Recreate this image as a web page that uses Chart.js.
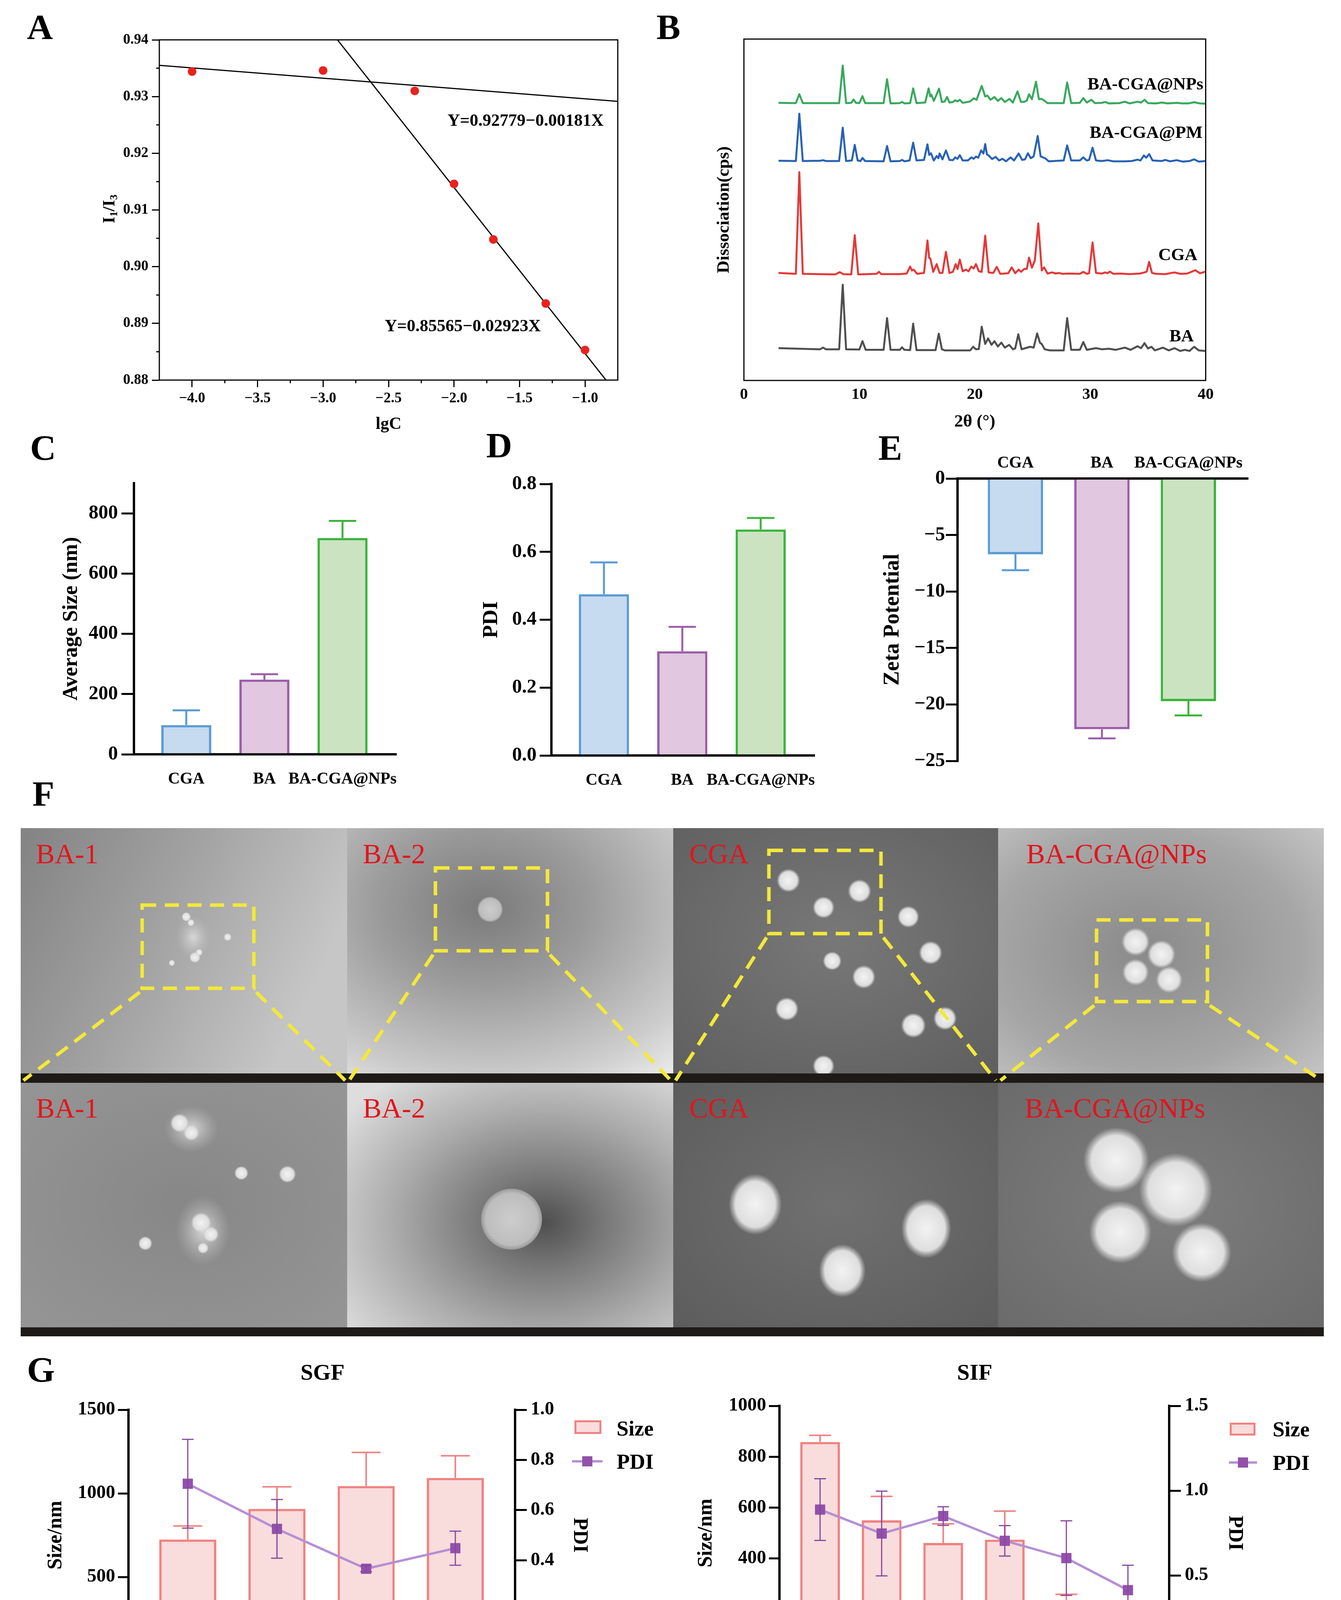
<!DOCTYPE html>
<html>
<head>
<meta charset="utf-8">
<script src="https://cdn.jsdelivr.net/npm/chart.js@4.4.1/dist/chart.umd.min.js"></script>
<style>
  html, body { margin: 0; padding: 0; background: #fff; }
  body { width: 3434px; height: 4461px; position: relative; overflow: hidden;
         font-family: 'Liberation Serif', 'Times New Roman', serif; }
  canvas { position: absolute; }
  .lbl { position: absolute; font-weight: bold; line-height: 1; white-space: nowrap; color: #000; }
  .letter { font-size: 92px; }
  .c { transform: translate(-50%, -50%); }
  .lc { transform: translateY(-50%); }
  sub { font-size: 0.62em; line-height: 0; vertical-align: -0.25em; }
</style>
</head>
<body>

<!-- panel letters -->
<div class="lbl letter" style="left:69px;top:23px">A</div>
<div class="lbl letter" style="left:1681px;top:23px">B</div>
<div class="lbl letter" style="left:77px;top:1100px">C</div>
<div class="lbl letter" style="left:1245px;top:1094px">D</div>
<div class="lbl letter" style="left:2249px;top:1100px">E</div>
<div class="lbl letter" style="left:83px;top:1986px">F</div>
<div class="lbl letter" style="left:69px;top:3460px">G</div>

<canvas id="chartA" width="1400" height="1053" style="left:200px;top:67px"></canvas>
<div class="lbl c" style="left:279px;top:535px;font-size:44px;transform:translate(-50%,-50%) rotate(-90deg)">I<sub>1</sub>/I<sub>3</sub></div>
<div class="lbl lc" style="left:1146px;top:308px;font-size:44px">Y=0.92779−0.00181X</div>
<div class="lbl lc" style="left:985px;top:834px;font-size:44px">Y=0.85565−0.02923X</div>

<canvas id="chartB" width="1320" height="1070" style="left:1800px;top:60px"></canvas>

<canvas id="chartC" width="930" height="848" style="left:130px;top:1192px"></canvas>
<canvas id="chartD" width="930" height="846" style="left:1200px;top:1194px"></canvas>
<canvas id="chartE" width="980" height="860" style="left:2240px;top:1130px"></canvas>

<!-- F : TEM micrographs (illustration) -->
<svg width="3434" height="1340" style="position:absolute;left:0;top:2100px" xmlns="http://www.w3.org/2000/svg">
  <defs>
    <linearGradient id="t1" x1="0" y1="0" x2="1" y2="0.35"><stop offset="0" stop-color="#838383"/><stop offset="0.5" stop-color="#a2a2a2"/><stop offset="1" stop-color="#c6c6c6"/></linearGradient>
    <radialGradient id="t2" cx="0.42" cy="0.32" r="0.95"><stop offset="0" stop-color="#7a7a7a"/><stop offset="0.35" stop-color="#9c9c9c"/><stop offset="0.75" stop-color="#cdcdcd"/><stop offset="1" stop-color="#f4f4f4"/></radialGradient>
    <radialGradient id="t3" cx="0.5" cy="0.45" r="0.8"><stop offset="0" stop-color="#787878"/><stop offset="1" stop-color="#5d5d5d"/></radialGradient>
    <radialGradient id="t4" cx="0.45" cy="0.5" r="0.8"><stop offset="0" stop-color="#8a8a8a"/><stop offset="0.6" stop-color="#a6a6a6"/><stop offset="1" stop-color="#cbcbcb"/></radialGradient>
    <radialGradient id="b1" cx="0.5" cy="0.5" r="0.8"><stop offset="0" stop-color="#878787"/><stop offset="1" stop-color="#979797"/></radialGradient>
    <radialGradient id="b2" cx="0.6" cy="0.57" r="0.75"><stop offset="0" stop-color="#4e4e4e"/><stop offset="0.25" stop-color="#787878"/><stop offset="0.6" stop-color="#aaaaaa"/><stop offset="1" stop-color="#dddddd"/></radialGradient>
    <radialGradient id="b3" cx="0.5" cy="0.5" r="0.8"><stop offset="0" stop-color="#707070"/><stop offset="1" stop-color="#5a5a5a"/></radialGradient>
    <radialGradient id="b4" cx="0.5" cy="0.5" r="0.8"><stop offset="0" stop-color="#7e7e7e"/><stop offset="1" stop-color="#686868"/></radialGradient>
    <radialGradient id="blob"><stop offset="0" stop-color="#f3f3f3"/><stop offset="0.75" stop-color="#dedede"/><stop offset="1" stop-color="#cfcfcf" stop-opacity="0"/></radialGradient>
    <radialGradient id="haze"><stop offset="0" stop-color="#d8d8d8"/><stop offset="1" stop-color="#bcbcbc" stop-opacity="0"/></radialGradient>
    <radialGradient id="sph"><stop offset="0" stop-color="#cdcdcd"/><stop offset="0.85" stop-color="#bdbdbd"/><stop offset="1" stop-color="#9a9a9a"/></radialGradient>
  </defs>
  <rect x="53" y="20" width="836" height="628" fill="url(#t1)"/>
  <rect x="889" y="20" width="835" height="628" fill="url(#t2)"/>
  <rect x="1724" y="20" width="832" height="628" fill="url(#t3)"/>
  <rect x="2556" y="20" width="834" height="628" fill="url(#t4)"/>
  <rect x="53" y="672" width="836" height="626" fill="url(#b1)"/>
  <rect x="889" y="672" width="835" height="626" fill="url(#b2)"/>
  <rect x="1724" y="672" width="832" height="626" fill="url(#b3)"/>
  <rect x="2556" y="672" width="834" height="626" fill="url(#b4)"/>
  <g fill="url(#haze)">
    <ellipse cx="490" cy="790" rx="70" ry="60"/><ellipse cx="520" cy="1050" rx="70" ry="90"/>
    <ellipse cx="495" cy="300" rx="45" ry="55"/>
  </g>
  <g fill="url(#blob)">
    <circle cx="477" cy="247" r="12"/><circle cx="489" cy="262" r="9"/><circle cx="499" cy="351" r="14"/><circle cx="510" cy="338" r="9"/><circle cx="583" cy="299" r="10"/><circle cx="440" cy="365" r="8"/>
    <circle cx="2019" cy="154" r="30"/><circle cx="2201" cy="181" r="30"/><circle cx="2109" cy="223" r="28"/><circle cx="2326" cy="247" r="28"/>
    <circle cx="2383" cy="339" r="30"/><circle cx="2131" cy="360" r="24"/><circle cx="2212" cy="401" r="30"/><circle cx="2015" cy="483" r="30"/>
    <circle cx="2339" cy="525" r="32"/><circle cx="2420" cy="507" r="30"/><circle cx="2109" cy="629" r="28"/>
    <circle cx="2908" cy="311" r="36"/><circle cx="2974" cy="343" r="36"/><circle cx="2908" cy="389" r="34"/><circle cx="2994" cy="408" r="34"/>
    <circle cx="460" cy="775" r="24"/><circle cx="490" cy="800" r="20"/><circle cx="515" cy="1030" r="26"/><circle cx="540" cy="1060" r="20"/><circle cx="520" cy="1095" r="14"/>
    <circle cx="372" cy="1083" r="18"/><circle cx="618" cy="903" r="18"/><circle cx="736" cy="906" r="22"/>
    <ellipse cx="1934" cy="983" rx="68" ry="78"/><ellipse cx="2372" cy="1045" rx="64" ry="76"/><ellipse cx="2157" cy="1153" rx="60" ry="68"/>
    <circle cx="2858" cy="870" r="84"/><circle cx="3011" cy="946" r="94"/><circle cx="2869" cy="1054" r="80"/><circle cx="3077" cy="1106" r="76"/>
  </g>
  <circle cx="1255" cy="228" r="32" fill="url(#sph)"/>
  <circle cx="1310" cy="1021" r="78" fill="url(#sph)"/>
  <rect x="53" y="648" width="3337" height="24" fill="#1d1a18"/>
  <rect x="53" y="1298" width="3337" height="23" fill="#1d1a18"/>
  <g stroke="#f3e83a" stroke-width="9" stroke-dasharray="36 22" fill="none">
    <rect x="364" y="217" width="286" height="213"/>
    <line x1="358" y1="440" x2="60" y2="666"/><line x1="656" y1="440" x2="884" y2="666"/>
    <rect x="1115" y="122" width="287" height="212"/>
    <line x1="1109" y1="344" x2="894" y2="666"/><line x1="1408" y1="344" x2="1718" y2="666"/>
    <rect x="1969" y="77" width="287" height="213"/>
    <line x1="1963" y1="300" x2="1730" y2="666"/><line x1="2262" y1="300" x2="2550" y2="666"/>
    <rect x="2808" y="255" width="284" height="209"/>
    <line x1="2802" y1="474" x2="2562" y2="666"/><line x1="3098" y1="474" x2="3384" y2="666"/>
  </g>
  <g font-family="'Liberation Serif','Times New Roman',serif" font-size="72" fill="#e3141c">
    <text x="92" y="110">BA-1</text><text x="929" y="110">BA-2</text><text x="1765" y="110">CGA</text><text x="2628" y="110">BA-CGA@NPs</text>
    <text x="92" y="761">BA-1</text><text x="929" y="761">BA-2</text><text x="1765" y="761">CGA</text><text x="2624" y="761">BA-CGA@NPs</text>
  </g>
</svg>

<div class="lbl c" style="left:826px;top:3513px;font-size:58px">SGF</div>
<div class="lbl c" style="left:2496px;top:3513px;font-size:58px">SIF</div>
<canvas id="chartGL" width="1460" height="880" style="left:100px;top:3560px"></canvas>
<canvas id="chartGR" width="1470" height="900" style="left:1760px;top:3550px"></canvas>

<!-- G legends -->
<div style="position:absolute;left:1471px;top:3636px;width:69px;height:35px;box-sizing:border-box;border:5px solid #f08282;background:#f9dcdc"></div>
<div style="position:absolute;left:1465px;top:3738px;width:78px;height:6px;background:#b58fd4"></div>
<div style="position:absolute;left:1491px;top:3728px;width:26px;height:26px;background:#9251aa"></div>
<div class="lbl lc" style="left:1579px;top:3656px;font-size:55px">Size</div>
<div class="lbl lc" style="left:1579px;top:3741px;font-size:55px">PDI</div>
<div style="position:absolute;left:3149px;top:3642px;width:66px;height:33px;box-sizing:border-box;border:5px solid #f08282;background:#f9dcdc"></div>
<div style="position:absolute;left:3147px;top:3741px;width:72px;height:6px;background:#b58fd4"></div>
<div style="position:absolute;left:3170px;top:3731px;width:26px;height:26px;background:#9251aa"></div>
<div class="lbl lc" style="left:3259px;top:3658px;font-size:55px">Size</div>
<div class="lbl lc" style="left:3259px;top:3744px;font-size:55px">PDI</div>

<script>
// ---------- data ----------
// A: pyrene fluorescence ratio
const lgC = [-4, -3, -2.3, -2, -1.7, -1.3, -1];
const ratioI1I3 = [0.9344, 0.9346, 0.9310, 0.9146, 0.9048, 0.8935, 0.8853];
const fitLowX = [-4.25, -0.75];
const fitLowY = [0.9355, 0.92915];
const fitHighX = [-2.89, -0.84];
const fitHighY = [0.94, 0.88];
const lgCTicks = [-4, -3.5, -3, -2.5, -2, -1.5, -1];
const lgCMinor = [-3.75, -3.25, -2.75, -2.25, -1.75, -1.25];
const ratioTicks = [0.88, 0.89, 0.90, 0.91, 0.92, 0.93, 0.94];
const ratioMinor = [0.885, 0.895, 0.905, 0.915, 0.925, 0.935];

// B: XRD patterns [2theta, intensity (a.u., stacked)]
const xrdNPs = [[3.0,997],[4.5,996],[4.8,1028],[5.1,996],[8.25,996],[8.56,1131],[8.85,996],[9.3,997],[9.5,1009],[9.7,997],[10.0,996],[10.27,1021],[10.5,996],[12.1,996],[12.4,1082],[12.7,995],[13.5,996],[13.7,1000],[13.9,995],[14.4,996],[14.66,1049],[14.95,996],[15.7,998],[16.0,1049],[16.15,1020],[16.25,1026],[16.45,1004],[16.7,1028],[16.9,1048],[17.15,1000],[17.4,1002],[17.6,1018],[17.8,998],[18.1,1000],[18.3,1006],[18.5,1002],[18.7,1008],[18.95,997],[19.6,1002],[19.9,1013],[20.15,1008],[20.6,1058],[20.9,1020],[21.1,1023],[21.35,1008],[21.7,1018],[22.0,1004],[22.3,1014],[22.6,1000],[23.0,1011],[23.3,998],[23.7,1038],[24.0,1000],[24.3,1001],[24.5,1005],[24.7,1028],[24.95,1010],[25.3,1073],[25.55,1010],[25.8,1011],[26.05,1004],[26.3,996],[27.7,996],[28.0,1070],[28.35,996],[29.1,997],[29.4,1014],[29.7,998],[30.1,1008],[30.4,996],[31.0,997],[31.3,1000],[31.6,995],[32.5,996],[33.0,1001],[33.4,995],[34.1,1001],[34.4,998],[34.7,1008],[35.0,996],[35.7,995],[36.2,998],[36.7,995],[37.5,997],[38.0,995],[38.5,995],[39.0,999],[39.5,995],[40.0,994]];
const xrdPM = [[3.0,789],[4.5,788],[4.8,958],[5.1,788],[6.6,789],[6.85,791],[7.1,788],[8.25,788],[8.56,908],[8.85,788],[9.35,790],[9.6,846],[9.85,790],[10.1,788],[10.27,799],[10.5,788],[12.1,787],[12.4,842],[12.7,787],[13.5,788],[13.7,792],[13.9,787],[14.35,790],[14.66,854],[14.95,790],[15.6,792],[15.9,848],[16.05,810],[16.2,816],[16.45,790],[16.7,806],[16.85,798],[16.95,815],[17.2,794],[17.5,826],[17.8,792],[18.1,791],[18.3,801],[18.5,796],[18.7,809],[18.95,790],[19.4,790],[19.7,801],[19.9,796],[20.1,804],[20.3,800],[20.55,826],[20.75,815],[20.9,849],[21.05,812],[21.2,808],[21.5,795],[21.8,803],[22.1,790],[22.4,796],[22.7,787],[23.1,801],[23.4,790],[23.8,815],[24.1,792],[24.35,794],[24.6,816],[24.85,798],[25.1,805],[25.45,878],[25.7,805],[25.9,801],[26.1,798],[26.4,787],[27.7,790],[28.0,844],[28.35,790],[29.1,790],[29.4,801],[29.7,790],[29.9,792],[30.2,836],[30.5,790],[31.0,788],[31.5,791],[32.0,787],[33.0,787],[33.6,788],[34.1,793],[34.35,790],[34.65,808],[34.85,800],[35.1,813],[35.4,790],[36.2,788],[36.5,792],[36.9,787],[37.5,791],[38.0,786],[38.6,788],[39.0,794],[39.4,786],[40.0,788]];
const xrdCGA = [[3.0,386],[4.5,383],[4.8,748],[5.1,383],[7.9,381],[8.3,389],[8.6,382],[9.3,381],[9.6,522],[9.9,381],[11.5,383],[11.7,390],[11.9,382],[13.5,382],[14.1,384],[14.4,409],[14.55,395],[14.7,398],[15.0,383],[15.6,386],[15.9,503],[16.05,440],[16.15,438],[16.4,390],[16.7,418],[16.95,386],[17.2,386],[17.5,462],[17.8,386],[18.1,390],[18.35,418],[18.5,400],[18.7,434],[18.95,392],[19.25,398],[19.45,392],[19.7,409],[19.9,402],[20.1,418],[20.35,392],[20.6,390],[20.9,520],[21.2,388],[21.6,386],[21.9,408],[22.2,383],[22.9,385],[23.2,406],[23.5,385],[23.8,398],[24.0,390],[24.3,401],[24.5,400],[24.7,441],[24.95,405],[25.2,431],[25.5,564],[25.8,395],[26.0,406],[26.3,384],[26.7,388],[27.0,384],[27.3,386],[27.6,383],[28.2,384],[29.1,383],[29.4,390],[29.7,383],[29.9,385],[30.2,496],[30.5,386],[31.0,384],[31.3,388],[31.5,385],[31.7,391],[32.0,383],[32.6,384],[33.4,382],[34.3,384],[34.7,388],[34.9,391],[35.1,426],[35.35,386],[35.7,383],[36.5,382],[37.3,388],[37.8,383],[38.4,384],[39.1,396],[39.5,385],[40.0,391]];
const xrdBA = [[3.0,116],[6.6,112],[6.85,118],[7.1,112],[8.25,112],[8.56,344],[8.85,112],[10.0,111],[10.27,141],[10.55,110],[12.1,110],[12.4,224],[12.7,110],[13.5,110],[13.7,119],[13.9,110],[14.4,109],[14.66,204],[14.95,109],[16.6,109],[16.88,168],[17.15,112],[17.4,108],[19.6,108],[19.86,121],[20.1,112],[20.35,113],[20.6,193],[20.9,131],[21.15,151],[21.45,128],[21.7,141],[22.0,122],[22.3,136],[22.6,118],[22.98,128],[23.3,112],[23.5,115],[23.77,166],[24.05,112],[24.8,121],[25.1,118],[25.4,169],[25.65,135],[25.8,131],[26.05,112],[26.5,108],[27.7,108],[28.0,224],[28.35,110],[29.1,110],[29.4,138],[29.7,110],[30.5,116],[31.0,112],[31.6,114],[32.2,110],[33.0,118],[33.5,110],[34.1,123],[34.4,116],[34.7,134],[35.0,115],[35.3,121],[35.6,108],[36.3,118],[36.8,108],[37.3,116],[37.8,106],[38.2,110],[38.6,106],[39.0,121],[39.4,108],[40.0,106]];
const xrdNames = ['BA-CGA@NPs', 'BA-CGA@PM', 'CGA', 'BA'];
const thetaTicks = [0, 10, 20, 30, 40];

// C, D, E: formulation properties
const groups = ['CGA', 'BA', 'BA-CGA@NPs'];
const avgSize = [97, 248, 718];
const avgSizeSD = [49, 18, 57];
const pdiVals = [0.475, 0.307, 0.666];
const pdiSD = [0.094, 0.072, 0.034];
const zeta = [-6.71, -22.19, -19.71];
const zetaSD = [1.41, 0.81, 1.26];
const sizeTicks = [0, 200, 400, 600, 800];
const pdiTicks = [0, 0.2, 0.4, 0.6, 0.8];
const zetaTicks = [-25, -20, -15, -10, -5, 0];

// G: stability in simulated fluids
const sgfTime = ['0.0', '0.5', '1.0', '2.0'];
const sgfSize = [724, 907, 1044, 1092];
const sgfSizeSD = [81, 132, 201, 133];
const sgfPdi = [0.705, 0.525, 0.366, 0.448];
const sgfPdiSD = [0.177, 0.117, 0.012, 0.068];
const sifTime = ['0.0', '1.0', '2.0', '3.0', '4.0', '6.0'];
const sifSize = [858, 550, 461, 474, 213, 117];
const sifSizeSD = [26, 94, 75, 112, 46, 32];
const sifPdi = [0.888, 0.747, 0.85, 0.704, 0.602, 0.413];
const sifPdiSD = [0.182, 0.25, 0.055, 0.09, 0.22, 0.147];
const sgfSizeTicks = [0, 500, 1000, 1500];
const sgfPdiTicks = [0, 0.2, 0.4, 0.6, 0.8, 1.0];
const sifSizeTicks = [0, 200, 400, 600, 800, 1000];
const sifPdiTicks = [0, 0.5, 1.0, 1.5];

// ---------- style ----------
const SERIF = "'Liberation Serif', 'Times New Roman', serif";
const groupBorder = ['#5b9bd5', '#9b5fa8', '#3cb43c'];
const groupFill = ['#c6daf0', '#e1c7df', '#cbe3c1'];
const xrdColors = ['#38a85c', '#2762b5', '#e53838', '#4f4f4f'];
const sizeBorder = '#f08282', sizeFill = '#f9dcdc';
const pdiLine = '#b58fd4', pdiMark = '#9251aa', pdiErr = '#8548a0';

Chart.defaults.font.family = SERIF;
Chart.defaults.font.weight = 'bold';
Chart.defaults.color = '#000';
Chart.defaults.animation = false;
Chart.defaults.responsive = false;
Chart.defaults.devicePixelRatio = 1;
Chart.defaults.plugins.legend.display = false;
Chart.defaults.plugins.tooltip.enabled = false;

const minus = s => String(s).replace('-', '\u2212');
const setTicks = arr => s => { s.ticks = arr.map(v => ({ value: v })); };
const fixW = w => s => { s.width = w; };
const fixH = h => s => { s.height = h; };

// ---------- small plugins ----------
function errorBarPlugin(sets) {
  return {
    id: 'errorBars',
    afterDatasetDraw(chart, args) {
      const ctx = chart.ctx;
      sets.forEach(s => {
        if (s.dataset !== args.index) return;
        const meta = chart.getDatasetMeta(s.dataset);
        const ys = chart.scales[meta.yAxisID];
        const data = chart.data.datasets[s.dataset].data;
        ctx.save();
        ctx.lineWidth = s.width;
        meta.data.forEach((el, i) => {
          const v = data[i].y;
          const dir = v < 0 ? -1 : 1;
          const tip = ys.getPixelForValue(v + dir * s.errors[i]);
          const base = ys.getPixelForValue(s.both ? v - dir * s.errors[i] : v);
          ctx.strokeStyle = Array.isArray(s.color) ? s.color[i] : s.color;
          ctx.beginPath();
          ctx.moveTo(el.x, base); ctx.lineTo(el.x, tip);
          ctx.moveTo(el.x - s.cap / 2, tip); ctx.lineTo(el.x + s.cap / 2, tip);
          if (s.both) { ctx.moveTo(el.x - s.cap / 2, base); ctx.lineTo(el.x + s.cap / 2, base); }
          ctx.stroke();
        });
        ctx.restore();
      });
    }
  };
}

function framePlugin(w) {
  return {
    id: 'frame',
    afterDraw(chart) {
      const { ctx, chartArea: a } = chart;
      ctx.save();
      ctx.strokeStyle = '#000';
      ctx.lineWidth = w;
      ctx.strokeRect(a.left, a.top, a.right - a.left, a.bottom - a.top);
      ctx.restore();
    }
  };
}

function minorTickPlugin(xVals, yVals, len, w) {
  return {
    id: 'minorTicks',
    afterDraw(chart) {
      const { ctx, chartArea: a, scales } = chart;
      ctx.save();
      ctx.strokeStyle = '#000';
      ctx.lineWidth = w;
      ctx.beginPath();
      xVals.forEach(v => { const p = scales.x.getPixelForValue(v); ctx.moveTo(p, a.bottom); ctx.lineTo(p, a.bottom + len); });
      yVals.forEach(v => { const p = scales.y.getPixelForValue(v); ctx.moveTo(a.left, p); ctx.lineTo(a.left - len, p); });
      ctx.stroke();
      ctx.restore();
    }
  };
}

function curveLabelPlugin(names, anchors) {
  return {
    id: 'curveLabels',
    afterDatasetsDraw(chart) {
      const { ctx, scales } = chart;
      ctx.save();
      ctx.font = 'bold 45px ' + SERIF;
      ctx.fillStyle = '#000';
      ctx.textAlign = 'right';
      ctx.textBaseline = 'middle';
      names.forEach((n, i) => ctx.fillText(n, scales.x.getPixelForValue(anchors[i][0]), scales.y.getPixelForValue(anchors[i][1])));
      ctx.restore();
    }
  };
}

// ---------- A ----------
new Chart(document.getElementById('chartA'), {
  type: 'scatter',
  data: {
    datasets: [
      { data: lgC.map((x, i) => ({ x, y: ratioI1I3[i] })), pointRadius: 11, backgroundColor: '#e8231f', borderWidth: 0 },
      { data: fitLowX.map((x, i) => ({ x, y: fitLowY[i] })), showLine: true, borderColor: '#000', borderWidth: 3, pointRadius: 0 },
      { data: fitHighX.map((x, i) => ({ x, y: fitHighY[i] })), showLine: true, borderColor: '#000', borderWidth: 3, pointRadius: 0 }
    ]
  },
  options: {
    layout: { padding: { top: 35, right: 18, left: 0, bottom: 0 } },
    scales: {
      x: {
        type: 'linear', min: -4.25, max: -0.75,
        afterBuildTicks: setTicks(lgCTicks), afterFit: fixH(147),
        grid: { drawOnChartArea: false, tickLength: 18, color: '#000', lineWidth: 3 },
        border: { display: false },
        ticks: { font: { size: 37 }, padding: 7, callback: v => minus(v.toFixed(1)) },
        title: { display: true, text: 'lgC', font: { size: 44 }, padding: { top: 0, bottom: 7 } }
      },
      y: {
        type: 'linear', min: 0.88, max: 0.94,
        afterBuildTicks: setTicks(ratioTicks), afterFit: fixW(208),
        grid: { drawOnChartArea: false, tickLength: 19, color: '#000', lineWidth: 3 },
        border: { display: false },
        ticks: { font: { size: 37 }, padding: 9, callback: v => v.toFixed(2) }
      }
    }
  },
  plugins: [framePlugin(3), minorTickPlugin(lgCMinor, ratioMinor, 8, 3)]
});

// ---------- B ----------
const xrdSets = [xrdNPs, xrdPM, xrdCGA, xrdBA];
new Chart(document.getElementById('chartB'), {
  type: 'line',
  data: {
    datasets: xrdSets.map((d, i) => ({
      label: xrdNames[i], data: d, borderColor: xrdColors[i], borderWidth: 5,
      pointRadius: 0, tension: 0, borderJoinStyle: 'round'
    }))
  },
  options: {
    layout: { padding: { top: 40, right: 25, left: 0, bottom: 0 } },
    scales: {
      x: {
        type: 'linear', min: 0, max: 40,
        afterBuildTicks: setTicks(thetaTicks), afterFit: fixH(156),
        grid: { display: false, drawTicks: false }, border: { display: false },
        ticks: { font: { size: 41 }, padding: 12 },
        title: { display: true, text: '2θ (°)', font: { size: 45 }, padding: { top: 0, bottom: 23 } }
      },
      y: {
        type: 'linear', min: 0, max: 1226, afterFit: fixW(105),
        grid: { display: false, drawTicks: false }, border: { display: false },
        ticks: { display: false },
        title: { display: true, text: 'Dissociation(cps)', font: { size: 45 }, padding: { top: 27, bottom: 0 } }
      }
    }
  },
  plugins: [framePlugin(3), curveLabelPlugin(xrdNames, [[39.8, 1061], [39.73, 888], [39.28, 448], [38.97, 156]])]
});

// ---------- C, D, E ----------
function groupChart(id, values, errs, yCfg, xTop) {
  return new Chart(document.getElementById(id), {
    type: 'bar',
    data: {
      datasets: [{
        data: values.map((v, i) => ({ x: i, y: v })),
        backgroundColor: groupFill, borderColor: groupBorder, borderWidth: 6,
        borderSkipped: 'start', barPercentage: 0.64, categoryPercentage: 1
      }]
    },
    options: {
      layout: { padding: yCfg.pad },
      scales: {
        x: {
          type: 'linear', min: -0.67, max: 2.69, offset: false, position: xTop ? 'top' : 'bottom',
          afterBuildTicks: setTicks([0, 1, 2]), afterFit: fixH(yCfg.xH),
          grid: { display: false, drawTicks: false, offset: false },
          border: { display: true, color: '#000', width: 6 },
          ticks: { font: { size: 42 }, padding: yCfg.xPad, callback: v => groups[v] }
        },
        y: {
          type: 'linear', min: yCfg.min, max: yCfg.max,
          afterBuildTicks: setTicks(yCfg.ticks), afterFit: fixW(yCfg.yW),
          grid: { drawOnChartArea: false, tickLength: yCfg.tl, color: '#000', lineWidth: 5 },
          border: { display: true, color: '#000', width: 6 },
          ticks: { font: { size: 50 }, padding: yCfg.tp, callback: yCfg.fmt },
          title: { display: true, text: yCfg.title, font: { size: yCfg.titleSize }, padding: { top: yCfg.titlePad, bottom: 0 } }
        }
      }
    },
    plugins: [errorBarPlugin([{ dataset: 0, errors: errs, color: groupBorder, width: 5, cap: 70, both: false }])]
  });
}

groupChart('chartC', avgSize, avgSizeSD, {
  pad: { top: 45, right: 26, left: 0, bottom: 0 }, xH: 109, xPad: 39, yW: 213,
  min: 0, max: 900, ticks: sizeTicks, tl: 32, tp: 9, fmt: v => String(v),
  title: 'Average Size (nm)', titleSize: 54, titlePad: 21
}, false);

groupChart('chartD', pdiVals, pdiSD, {
  pad: { top: 45, right: 22, left: 0, bottom: 0 }, xH: 106, xPad: 39, yW: 212,
  min: 0, max: 0.8, ticks: pdiTicks, tl: 30, tp: 8, fmt: v => v.toFixed(1),
  title: 'PDI', titleSize: 55, titlePad: 26
}, false);

groupChart('chartE', zeta, zetaSD, {
  pad: { top: 0, right: 24, left: 0, bottom: 42 }, xH: 95, xPad: 14, yW: 212,
  min: -25, max: 0, ticks: zetaTicks, tl: 30, tp: 2, fmt: v => minus(v),
  title: 'Zeta Potential', titleSize: 56, titlePad: 13
}, true);

// ---------- G ----------
function fluidChart(id, times, size, sizeSD, pdi, pdiSDv, cfg) {
  return new Chart(document.getElementById(id), {
    type: 'bar',
    data: {
      datasets: [
        {
          type: 'line', label: 'PDI', yAxisID: 'y1', order: 1,
          data: pdi.map((v, i) => ({ x: i, y: v })),
          borderColor: pdiLine, borderWidth: 6, tension: 0,
          pointStyle: 'rect', pointRadius: 18.5, pointBackgroundColor: pdiMark, pointBorderWidth: 0
        },
        {
          type: 'bar', label: 'Size', yAxisID: 'y', order: 2,
          data: size.map((v, i) => ({ x: i, y: v })),
          backgroundColor: sizeFill, borderColor: sizeBorder, borderWidth: 6,
          borderSkipped: 'start', barPercentage: cfg.barPct, categoryPercentage: 1
        }
      ]
    },
    options: {
      layout: { padding: { top: 49, right: 0, left: 0, bottom: 0 } },
      scales: {
        x: {
          type: 'linear', min: cfg.xMin, max: cfg.xMax, offset: false,
          afterBuildTicks: setTicks(times.map((t, i) => i)), afterFit: fixH(cfg.xH),
          grid: { drawOnChartArea: false, offset: false, tickLength: 27, color: '#000', lineWidth: 5 },
          border: { display: true, color: '#000', width: 6 },
          ticks: { font: { size: 48 }, padding: cfg.xPad, callback: v => times[v] },
          title: { display: true, text: 'Time(h)', font: { size: 54 }, padding: { top: 0, bottom: cfg.xtPad } }
        },
        y: {
          type: 'linear', position: 'left', min: 0, max: cfg.sizeMax,
          afterBuildTicks: setTicks(cfg.sizeTicks), afterFit: fixW(cfg.yW),
          grid: { drawOnChartArea: false, tickLength: 27, color: '#000', lineWidth: 5 },
          border: { display: true, color: '#000', width: 6 },
          ticks: { font: { size: 48 }, padding: 7, callback: v => String(v) },
          title: { display: true, text: 'Size/nm', font: { size: 52 }, padding: { top: cfg.ytPad, bottom: 0 } }
        },
        y1: {
          type: 'linear', position: 'right', min: 0, max: cfg.pdiMax,
          afterBuildTicks: setTicks(cfg.pdiTicks), afterFit: fixW(cfg.y1W),
          grid: { drawOnChartArea: false, tickLength: 30, color: '#000', lineWidth: 5 },
          border: { display: true, color: '#000', width: 6 },
          ticks: { font: { size: 48 }, padding: 10, callback: v => v.toFixed(1) },
          title: { display: true, text: 'PDI', font: { size: 52 }, padding: { top: cfg.y1tPad, bottom: 0 } }
        }
      }
    },
    plugins: [errorBarPlugin([
      { dataset: 1, errors: sizeSD, color: sizeBorder, width: 4, cap: cfg.sizeCap, both: false },
      { dataset: 0, errors: pdiSDv, color: pdiErr, width: 3, cap: 30, both: true }
    ])]
  });
}

fluidChart('chartGL', sgfTime, sgfSize, sgfSizeSD, sgfPdi, sgfPdiSD, {
  xMin: -0.665, xMax: 3.67, barPct: 0.64, xH: 189, xPad: 6, xtPad: 15,
  sizeMax: 1500, sizeTicks: sgfSizeTicks, pdiMax: 1.0, pdiTicks: sgfPdiTicks,
  yW: 229, y1W: 241, ytPad: 12, y1tPad: 45, sizeCap: 74
});

fluidChart('chartGR', sifTime, sifSize, sifSizeSD, sifPdi, sifPdiSD, {
  xMin: -0.66, xMax: 5.67, barPct: 0.645, xH: 200, xPad: 7, xtPad: 12,
  sizeMax: 1000, sizeTicks: sifSizeTicks, pdiMax: 1.5, pdiTicks: sifPdiTicks,
  yW: 236, y1W: 236, ytPad: 17, y1tPad: 37, sizeCap: 56
});
</script>
</body>
</html>
